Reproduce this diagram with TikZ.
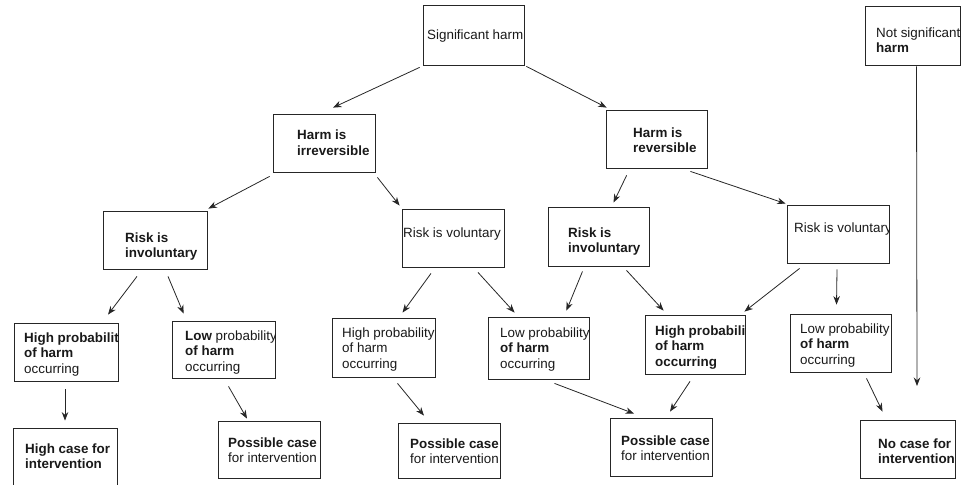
\documentclass[tikz,border=0pt]{standalone}
\usepackage{fontspec}
\setmainfont{Liberation Sans}
\usetikzlibrary{arrows.meta,fit,calc}

% a text node kept inside the box it belongs to
\newcommand{\boxedlabel}[5]{%
  \begin{scope}
    \clip (#1.south west) rectangle (#1.north east);
    \node[#2] (#1-t) at (#3,#4) {#5};
  \end{scope}}

\begin{document}
\begin{tikzpicture}[x=1pt,y=-1pt,
  box/.style={draw=black!85, line width=0.8pt, inner sep=0pt, fill=none},
  txt/.style={anchor=north west, inner sep=0pt, align=left, text=black!90,
    font=\fontsize{13.4}{15.5}\selectfont,
    execute at begin node={\rule{0pt}{10pt}}},
  btxt/.style={txt, font=\fontsize{13.4}{15.5}\selectfont\bfseries},
  arr/.style={draw=black!85, line width=0.8pt, -{Stealth[length=8.5pt,width=6.5pt]}}]
\useasboundingbox (0,0) rectangle (965,484);

% ---- boxes ----
\node[box, fit={(423,5)(524,65)}]    (sig)   {};
\node[box, fit={(865,6)(960,65)}]    (nsig)  {};
\node[box, fit={(273,114)(375,172)}] (irr)   {};
\node[box, fit={(606,110)(707,168)}] (rev)   {};
\node[box, fit={(103,211)(207,269)}] (invL)  {};
\node[box, fit={(402,209)(504,267)}] (volM)  {};
\node[box, fit={(548,207)(649,266)}] (invR)  {};
\node[box, fit={(787,205)(889,263)}] (volR)  {};
\node[box, fit={(14,323)(118,381)}]  (hiL)   {};
\node[box, fit={(172,321)(275,378)}] (loL)   {};
\node[box, fit={(332,318)(435,377)}] (hiM)   {};
\node[box, fit={(488,317)(589,379)}] (loM)   {};
\node[box, fit={(645,315)(745,374)}] (hiR)   {};
\node[box, fit={(790,314)(891,372)}] (loR)   {};
\node[box, fit={(13,428)(117,487)}]  (caseA) {};
\node[box, fit={(218,421)(320,478)}] (caseB) {};
\node[box, fit={(398,423)(500,478)}] (caseC) {};
\node[box, fit={(610,418)(712,476)}] (caseD) {};
\node[box, fit={(860,420)(955,478)}] (caseE) {};

% ---- box texts ----
\boxedlabel{sig}{txt}{427}{29.5}{Significant harm}
\boxedlabel{nsig}{txt}{876}{27.5}{Not significant\\\textbf{harm}}
\boxedlabel{irr}{btxt}{297}{130}{Harm is\\irreversible}
\boxedlabel{rev}{btxt}{633}{127.5}{Harm is\\reversible}
\boxedlabel{invL}{btxt}{125}{232.5}{Risk is\\involuntary}
\boxedlabel{volM}{txt}{403}{227.5}{Risk is voluntary}
\boxedlabel{invR}{btxt}{568}{227.5}{Risk is\\involuntary}
\boxedlabel{volR}{txt}{794}{222.5}{Risk is voluntary}
\boxedlabel{hiL}{txt}{24}{332.5}{\textbf{High probability}\\\textbf{of harm}\\occurring}
\boxedlabel{loL}{txt}{185}{330.5}{\textbf{Low} probability\\\textbf{of harm}\\occurring}
\boxedlabel{hiM}{txt}{342}{327.5}{High probability\\of harm\\occurring}
\boxedlabel{loM}{txt}{500}{327.5}{Low probability\\\textbf{of harm}\\occurring}
\boxedlabel{hiR}{btxt}{655}{325.5}{High probability\\of harm\\occurring}
\boxedlabel{loR}{txt}{800}{323.5}{Low probability\\\textbf{of harm}\\occurring}
\boxedlabel{caseA}{btxt}{25}{443.5}{High case for\\intervention}
\boxedlabel{caseB}{txt}{228}{437.5}{\textbf{Possible case}\\for intervention}
\boxedlabel{caseC}{txt}{410}{438.5}{\textbf{Possible case}\\for intervention}
\boxedlabel{caseD}{txt}{621}{435.5}{\textbf{Possible case}\\for intervention}
\boxedlabel{caseE}{btxt}{878}{438.5}{No case for\\intervention}

% ---- connectors ----
\coordinate (nsig-end) at (917,386);
\draw[arr] ($(sig.south west)+(-3,2)$)  -- ($(irr.north)+(9,-6)$);
\draw[arr] ($(sig.south east)+(2,1)$)   -- ($(rev.north west)+(1,-2)$);
\draw[arr] ($(irr.south west)+(-3,4)$)  -- ($(invL.north east)+(1,-2)$);
\draw[arr] ($(irr.south east)+(2,5)$)   -- ($(volM.north west)+(-2,-3)$);
\draw[arr] ($(rev.south west)+(21,7)$)  -- ($(invR.north)+(15,-4)$);
\draw[arr] ($(rev.south east)+(-17,3)$) -- ($(volR.north west)+(-1,-1)$);
\draw[arr] ($(invL.south)+(-18,7)$)     -- ($(hiL.north)+(42,-8)$);
\draw[arr] ($(invL.south)+(13,7)$)      -- ($(loL.north west)+(12,-7)$);
\draw[arr] ($(volM.south)+(-22,6)$)     -- ($(hiM.north)+(19,-5)$);
\draw[arr] ($(volM.south)+(25,5)$)      -- ($(loM.north west)+(27,-4)$);
\draw[arr] ($(invR.south)+(-16,5)$)     -- ($(loM.north east)+(-23,-6)$);
\draw[arr] ($(invR.south)+(28,4)$)      -- ($(hiR.north west)+(19,-4)$);
\draw[arr] ($(volR.south west)+(13,5)$) -- ($(hiR.north east)+(-1,-3)$);
\draw[arr] ($(volR.south)+(-1,6)$)      -- ($(loR.north)+(-4,-9)$);
\draw[arr] ($(hiL.south)+(-1,8)$)       -- ($(caseA.north)+(0,-7)$);
\draw[arr] ($(loL.south)+(5,8)$)        -- ($(caseB.north)+(-22,-2)$);
\draw[arr] ($(hiM.south)+(14,6)$)       -- ($(caseC.north)+(-25,-7)$);
\draw[arr] ($(loM.south)+(16,4)$)       -- ($(caseD.north)+(-27,-4)$);
\draw[arr] ($(hiR.south)+(-5,7)$)       -- ($(caseD.north)+(9,-6)$);
\draw[arr] ($(loR.south)+(26,6)$)       -- ($(caseE.north)+(-25,-8)$);
\draw[arr] ($(nsig.south)+(4,1)$)       -- (nsig-end);
\end{tikzpicture}
\end{document}
